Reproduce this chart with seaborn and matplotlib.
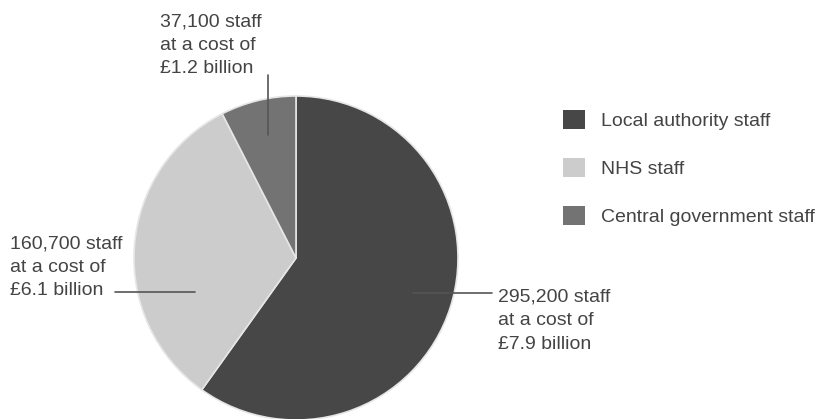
import matplotlib
matplotlib.use('Agg')
import matplotlib.pyplot as plt
import seaborn as sns
from matplotlib.patches import Patch

# Dati
groups = ["Local authority staff", "NHS staff", "Central government staff"]
staff = [295200, 160700, 37100]
cost_bn = [7.9, 6.1, 1.2]
colours = ["#474747", "#cccccc", "#737373"]

sns.set_theme(style="white")
plt.rcParams['font.family'] = ['Liberation Sans', 'DejaVu Sans']
text_col = "#444444"

fig = plt.figure(figsize=(8.27, 4.19), dpi=100)
# assi posizionati in pixel: centro (296, 258), raggio 162
cx, cy, r = 296, 419 - 258, 162
ax = fig.add_axes([(cx - r) / 827, (cy - r) / 419, 2 * r / 827, 2 * r / 419])

wedges, _ = ax.pie(staff, colors=colours, startangle=90, counterclock=False,
                   wedgeprops=dict(edgecolor="#e6e6e6", linewidth=1.2))
ax.set_xlim(-1, 1)
ax.set_ylim(-1, 1)
ax.set_aspect('equal')
ax.axis('off')

def label(i):
    return f"{staff[i]:,} staff\nat a cost of\n£{cost_bn[i]} billion"

line_kw = dict(color="#555555", lw=1.2, clip_on=False)
fs = 14
ls = 1.5
# Local authority
ax.plot([0.72, 1.21], [-0.215, -0.215], **line_kw)
ax.text(1.245, -0.19, label(0), fontsize=fs, color=text_col, va='top', ha='left',
        linespacing=ls, clip_on=False)
# NHS
ax.plot([-1.12, -0.625], [-0.21, -0.21], **line_kw)
ax.text(-1.765, 0.14, label(1), fontsize=fs, color=text_col, va='top', ha='left',
        linespacing=ls, clip_on=False)
# Central government
ax.plot([-0.173, -0.173], [0.76, 1.13], **line_kw)
ax.text(-0.84, 1.51, label(2), fontsize=fs, color=text_col, va='top', ha='left',
        linespacing=ls, clip_on=False)

handles = [Patch(facecolor=c, edgecolor='none') for c in colours]
fig.legend(handles, groups, loc='upper left', bbox_to_anchor=(563 / 827, 1 - 110 / 419),
           frameon=False, fontsize=fs, handlelength=1.13, handleheight=1.13,
           labelspacing=1.43, handletextpad=0.82, borderpad=0, borderaxespad=0,
           labelcolor=text_col)

fig.savefig("out.png", dpi=100)
plt.close(fig)
